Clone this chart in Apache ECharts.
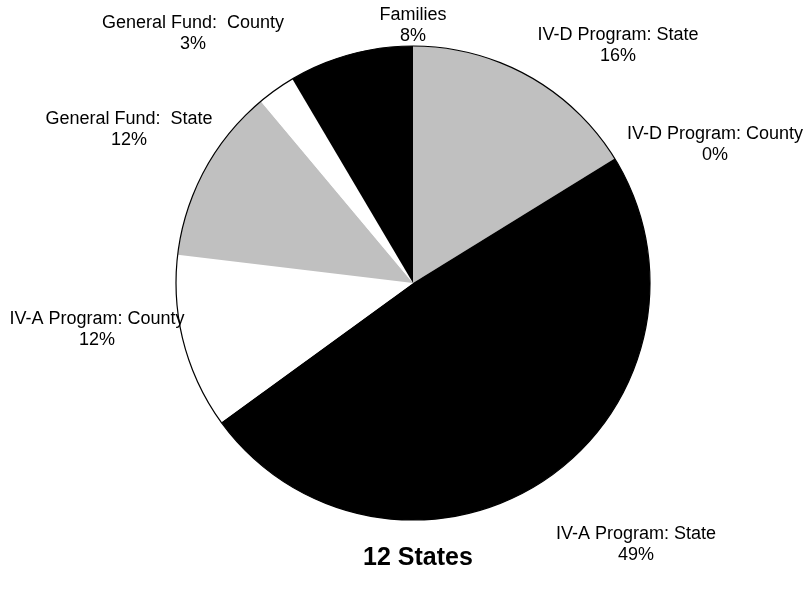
<!DOCTYPE html>
<html>
<head>
<meta charset="utf-8">
<script src="https://cdn.jsdelivr.net/npm/echarts@6/dist/echarts.min.js"></script>
<style>html,body{margin:0;padding:0;background:#fff;}#c{width:812px;height:592px;}</style>
</head>
<body>
<div id="c"></div>
<script>
var categories = ["IV-D Program: State", "IV-D Program: County", "IV-A Program: State", "IV-A Program: County", "General Fund:  State", "General Fund:  County", "Families"];
var values = [16.2, 0, 48.8, 11.9, 12.0, 2.6, 8.5];
var colors = ["#c0c0c0", "#000000", "#000000", "#ffffff", "#c0c0c0", "#ffffff", "#000000"];
var titleText = "12 States";
// label centre positions (layout only)
var labelPos = [[618, 46], [715, 145], [636, 545], [97, 330], [129, 130], [193, 34], [413, 26]];

var chart = echarts.init(document.getElementById('c'));
chart.setOption({
  animation: false,
  backgroundColor: '#ffffff',
  title: {
    text: titleText, left: 413, top: 541, textAlign: 'center',
    textStyle: { fontFamily: 'Liberation Sans', fontWeight: 'bold', fontSize: 25, color: '#000' }
  },
  series: [{
    type: 'pie',
    center: [413, 283],
    radius: 237,
    startAngle: 90,
    clockwise: true,
    percentPrecision: 0,
    avoidLabelOverlap: false,
    stillShowZeroSum: true,
    minAngle: 0,
    data: categories.map(function (c, i) {
      return { name: c, value: values[i], itemStyle: { color: colors[i] } };
    }),
    itemStyle: { borderWidth: 0 },
    label: {
      show: true, position: 'outside', formatter: '{b}\n{d}%',
      fontFamily: 'Liberation Sans', fontSize: 18, lineHeight: 21, color: '#000', align: 'center'
    },
    labelLine: { show: false },
    labelLayout: function (p) {
      var pos = labelPos[p.dataIndex];
      return { x: pos[0], y: pos[1], align: 'center', verticalAlign: 'middle' };
    },
    emphasis: { disabled: true }
  }, {
    type: 'pie',
    center: [413, 283],
    radius: 237,
    silent: true,
    data: [{ value: 1, name: 'outline' }],
    itemStyle: { color: 'rgba(0,0,0,0)', borderColor: '#000', borderWidth: 1.2 },
    label: { show: false }, labelLine: { show: false },
    emphasis: { disabled: true }
  }]
});
</script>
</body>
</html>
